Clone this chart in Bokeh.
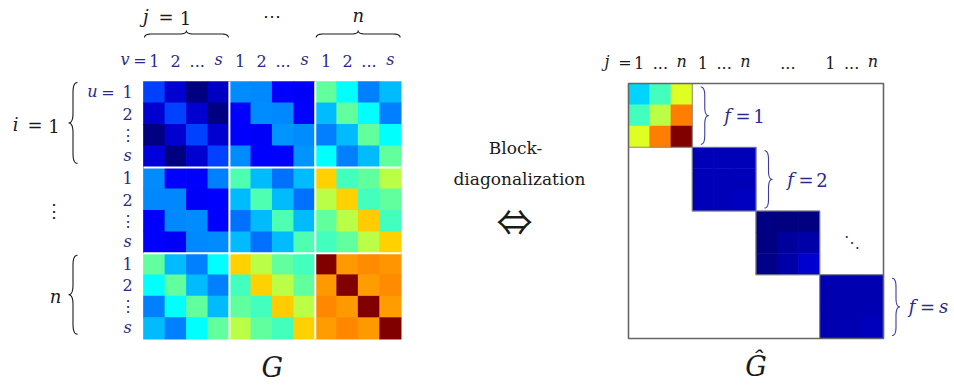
import numpy as np
from bokeh.plotting import figure
from bokeh.models import Range1d, ColumnDataSource, LinearColorMapper
from bokeh.transform import transform
from bokeh.core.properties import value
from bokeh.embed import file_html
from bokeh.resources import INLINE

# ---------------- data ----------------
# G : 12 x 12 (n = 3 blocks of s = 4), values on a 0..1 jet scale
G_rows = [
    [0.19, 0.08, 0.00, 0.07,  0.265, 0.26, 0.125, 0.12,  0.47, 0.375, 0.25, 0.31],
    [0.08, 0.19, 0.08, 0.00,  0.125, 0.265, 0.26, 0.125, 0.31, 0.47, 0.375, 0.25],
    [0.00, 0.08, 0.19, 0.08,  0.125, 0.12, 0.27, 0.265,  0.25, 0.31, 0.47, 0.375],
    [0.09, 0.00, 0.08, 0.19,  0.265, 0.125, 0.125, 0.27, 0.375, 0.25, 0.31, 0.47],
    [0.265, 0.125, 0.125, 0.25,  0.45, 0.31, 0.235, 0.31,  0.67, 0.44, 0.47, 0.555],
    [0.26, 0.26, 0.12, 0.125,    0.31, 0.45, 0.31, 0.235,  0.555, 0.67, 0.44, 0.47],
    [0.125, 0.26, 0.265, 0.125,  0.235, 0.31, 0.45, 0.31,  0.47, 0.555, 0.675, 0.44],
    [0.125, 0.12, 0.26, 0.265,   0.31, 0.235, 0.31, 0.45,  0.44, 0.47, 0.555, 0.67],
    [0.47, 0.31, 0.25, 0.375,  0.67, 0.555, 0.47, 0.44,   1.00, 0.725, 0.735, 0.728],
    [0.375, 0.47, 0.31, 0.25,  0.44, 0.67, 0.555, 0.47,   0.725, 1.00, 0.72, 0.735],
    [0.25, 0.375, 0.47, 0.31,  0.47, 0.44, 0.675, 0.555,  0.74, 0.725, 1.00, 0.72],
    [0.31, 0.25, 0.375, 0.47,  0.555, 0.47, 0.44, 0.67,   0.72, 0.74, 0.725, 1.00],
]
# G-hat : block diagonal, s = 4 blocks of n = 3
Ghat_f1 = [[0.335, 0.44, 0.59], [0.44, 0.555, 0.75], [0.59, 0.75, 1.00]]
Ghat_f2 = [[0.055, 0.055, 0.058], [0.055, 0.056, 0.058], [0.058, 0.058, 0.065]]
Ghat_f3 = [[0.005, 0.003, 0.003], [0.003, 0.030, 0.040], [0.010, 0.040, 0.080]]
Ghat_f4 = [[0.047, 0.047, 0.050], [0.047, 0.050, 0.052], [0.050, 0.052, 0.060]]
Ghat_blocks = [Ghat_f1, Ghat_f2, Ghat_f3, Ghat_f4]

uv_labels = ["1", "2", "...", "s"]
row_labels = ["1", "2", "\u22ee", "s"]
j_labels = ["1", "...", "n", "1", "...", "n", "", "...", "", "1", "...", "n"]
f_labels = ["1", "2", "", "s"]

# ---------------- style / layout ----------------
BLACK = "#1a1a1a"
BLUE = "#2a2a8c"
BRACE_BLUE = "#3c3c9c"
SERIF = value("DejaVu Serif")

LX0, LY0, LC = 143.0, 81.0, 21.47
RX0, RY0, RC = 628.0, 83.0, 21.25
W, H = 954, 387


def jet(v):
    r = np.clip(1.5 - np.abs(4 * v - 3), 0, 1)
    g = np.clip(1.5 - np.abs(4 * v - 2), 0, 1)
    b = np.clip(1.5 - np.abs(4 * v - 1), 0, 1)
    return "#%02x%02x%02x" % (int(round(r * 255)), int(round(g * 255)), int(round(b * 255)))


palette = [jet(v) for v in np.linspace(0, 1, 256)]
mapper = LinearColorMapper(palette=palette, low=0, high=1)

p = figure(width=W, height=H, x_range=Range1d(0, W), y_range=Range1d(H, 0),
           output_backend="svg", toolbar_location=None,
           x_axis_location=None, y_axis_location=None, min_border=0)
p.grid.visible = False
p.outline_line_color = None
p.background_fill_color = "white"
p.border_fill_color = "white"

# ---------- left matrix G ----------
lx, ly, lv = [], [], []
for r, row in enumerate(G_rows):
    for c, v in enumerate(row):
        lx.append(LX0 + (c + 0.5) * LC)
        ly.append(LY0 + (r + 0.5) * LC)
        lv.append(v)
src_l = ColumnDataSource(dict(x=lx, y=ly, v=lv))
p.rect("x", "y", width=LC + 0.7, height=LC + 0.7, source=src_l,
       fill_color=transform("v", mapper), line_color=None)

# white separators between blocks
nb = 3
sep = [LX0 + k * 4 * LC for k in range(1, nb)]
p.segment(x0=sep, y0=[LY0] * 2, x1=sep, y1=[LY0 + 12 * LC] * 2, line_color="white", line_width=2)
sepy = [LY0 + k * 4 * LC for k in range(1, nb)]
p.segment(x0=[LX0] * 2, y0=sepy, x1=[LX0 + 12 * LC] * 2, y1=sepy, line_color="white", line_width=2)

# ---------- right matrix G-hat ----------
rx, ry, rv = [], [], []
for f, blk in enumerate(Ghat_blocks):
    for i, row in enumerate(blk):
        for j, v in enumerate(row):
            rx.append(RX0 + (3 * f + j + 0.5) * RC)
            ry.append(RY0 + (3 * f + i + 0.5) * RC)
            rv.append(v)
src_r = ColumnDataSource(dict(x=rx, y=ry, v=rv))
p.rect("x", "y", width=RC + 0.7, height=RC + 0.7, source=src_r,
       fill_color=transform("v", mapper), line_color=None)
bc = [RX0 + (3 * f + 1.5) * RC for f in range(4)]
bcy = [RY0 + (3 * f + 1.5) * RC for f in range(4)]
p.rect(bc, bcy, width=3 * RC, height=3 * RC, fill_color=None, line_color="#8a8a8a", line_width=1)
p.rect([RX0 + 6 * RC], [RY0 + 6 * RC], width=12 * RC, height=12 * RC,
       fill_color=None, line_color="#666666", line_width=1.6)


# ---------- braces ----------
def brace(a, b, base, h, horizontal):
    m = (a + b) / 2.0
    q = min(abs(h) * 1.1, (b - a) / 4.0)
    t = np.linspace(0, 1, 16)

    def quad(p0, p1, p2):
        return (1 - t) ** 2 * p0 + 2 * (1 - t) * t * p1 + t ** 2 * p2
    hm = base + h / 2.0
    u = np.concatenate([quad(a, a, a + q), quad(m - q, m, m), quad(m, m, m + q), quad(b - q, b, b)])
    w = np.concatenate([quad(base, hm, hm), quad(hm, hm, base + h), quad(base + h, hm, hm), quad(hm, hm, base)])
    return (list(u), list(w)) if horizontal else (list(w), list(u))


tops = [brace(LX0 + 1, LX0 + 4 * LC - 1, 37, -7, True),
        brace(LX0 + 8 * LC + 1, LX0 + 12 * LC - 1, 37, -7, True)]
lefts = [brace(LY0 + 1, LY0 + 4 * LC - 4, 77, -9, False),
         brace(LY0 + 8 * LC + 2, LY0 + 12 * LC - 5, 77, -9, False)]
p.multi_line([b[0] for b in tops + lefts], [b[1] for b in tops + lefts], line_color=BLACK, line_width=1.1)
rights = []
for f in (0, 1, 3):
    rights.append(brace(RY0 + 3 * f * RC + 3.5, RY0 + 3 * (f + 1) * RC - 3, RX0 + 3 * (f + 1) * RC + 8.5, 8, False))
p.multi_line([b[0] for b in rights], [b[1] for b in rights], line_color=BRACE_BLUE, line_width=1.1)


# ---------- text helpers ----------
def txt(x, y, s, size, color, italic=False, align="center", font=SERIF):
    p.text(x=x if isinstance(x, list) else [x], y=y if isinstance(y, list) else [y],
           text=s if isinstance(s, list) else [s], text_font=font,
           text_font_style="italic" if italic else "normal", text_font_size=f"{size}px",
           text_color=color, text_align=align, text_baseline="middle")


def is_var(s):
    return s in ("s", "n")


LAB = 16   # small label size
EQ = 18    # equation label size

# column labels over G
cx = [LX0 + (c + 0.5) * LC for c in range(12)]
cl = uv_labels * 3
txt([x for x, s in zip(cx, cl) if not is_var(s)], [60] * sum(not is_var(s) for s in cl),
    [s for s in cl if not is_var(s)], LAB, BLUE)
txt([x for x, s in zip(cx, cl) if is_var(s)], [59] * sum(is_var(s) for s in cl),
    [s for s in cl if is_var(s)], LAB, BLUE, italic=True)
txt(129, 59, "v", LAB, BLUE, italic=True, align="right")
txt(139.5, 60, "=", LAB, BLUE)

# row labels left of G
ry_ = [LY0 + (r + 0.5) * LC for r in range(12)]
rl = row_labels * 3
txt([127] * sum(not is_var(s) for s in rl), [y for y, s in zip(ry_, rl) if not is_var(s)],
    [s for s in rl if not is_var(s)], LAB, BLUE)
txt([127] * sum(is_var(s) for s in rl), [y - 1 for y, s in zip(ry_, rl) if is_var(s)],
    [s for s in rl if is_var(s)], LAB, BLUE, italic=True)
txt(97, 91, "u", LAB, BLUE, italic=True, align="right")
txt(107.5, 92, "=", LAB, BLUE)

# outer labels of G
txt(148, 16, "j", EQ, BLACK, italic=True, align="right")
txt(165.5, 17, "=", EQ, BLACK)
txt(185, 17, "1", EQ, BLACK)
txt(LX0 + 6 * LC, 15, "\u22ef", EQ, BLACK)
txt(LX0 + 10 * LC, 15, "n", EQ, BLACK, italic=True)
txt(18, 124, "i", EQ, BLACK, italic=True, align="right")
txt(34.5, 125, "=", EQ, BLACK)
txt(53.5, 125, "1", EQ, BLACK)
txt(53, LY0 + 6 * LC, "\u22ee", EQ, BLACK)
txt(55, LY0 + 10 * LC, "n", EQ, BLACK, italic=True)
txt(LX0 + 6 * LC, 367, "G", 27, BLACK, italic=True)

# middle
txt(515, 147, "Block-", 17, BLACK)
txt(519, 178, "diagonalization", 17, BLACK)
txt(514, 219, "\u21d4", 36, BLACK, font=value("Noto Sans CJK JP"))

# labels of G-hat
jx = [RX0 + (c + 0.5) * RC for c in range(12)]
txt([x for x, s in zip(jx, j_labels) if s and not is_var(s)], [62] * sum(bool(s) and not is_var(s) for s in j_labels),
    [s for s in j_labels if s and not is_var(s)], LAB, BLACK)
txt([x for x, s in zip(jx, j_labels) if is_var(s)], [61] * sum(is_var(s) for s in j_labels),
    [s for s in j_labels if is_var(s)], LAB, BLACK, italic=True)
txt(609, 61, "j", LAB, BLACK, italic=True, align="right")
txt(624.5, 62, "=", LAB, BLACK)

fx_eq = [742.5, 805.5, None, 927.0]
for f, lab in enumerate(f_labels):
    if not lab:
        continue
    yc = RY0 + (3 * f + 1.5) * RC + 1
    xe = fx_eq[f]
    txt(xe - 12, yc - 1, "f", EQ, BLUE, italic=True, align="right")
    txt(xe, yc, "=", EQ, BLUE)
    txt(xe + 16, yc - (1 if is_var(lab) else 0), lab, EQ, BLUE, italic=is_var(lab))
txt(RX0 + 10.5 * RC, RY0 + 7.5 * RC, "\u22f1", 16, BLUE)
txt(RX0 + 6 * RC, 366, "\u011c", 27, BLACK, italic=True)

open("out.html", "w").write(file_html(p, INLINE))
